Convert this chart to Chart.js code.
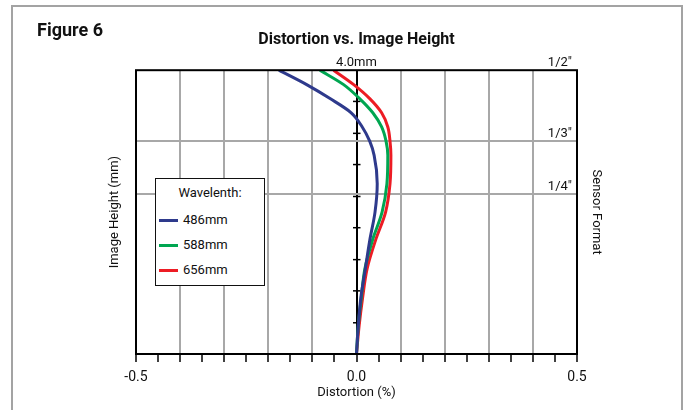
<!DOCTYPE html>
<html>
<head>
<meta charset="utf-8">
<script src="https://cdn.jsdelivr.net/npm/chart.js@4.4.1/dist/chart.umd.min.js"></script>
<style>
  html, body { margin: 0; padding: 0; background: #fff; }
  #wrap { position: relative; width: 687px; height: 410px; overflow: hidden; font-family: Roboto, "Liberation Sans", sans-serif; }
  #frame { position: absolute; left: 11px; top: 5px; width: 672px; height: 430px; border: 2px solid #a3a3a3; box-sizing: border-box; }
  #fig { position: absolute; left: 37px; top: 19px; font-weight: bold; font-size: 18px; color: #111; }
  #legend { position: absolute; left: 155px; top: 178px; width: 110px; height: 108px; border: 1.5px solid #111; background: #fff; box-sizing: border-box; font-size: 13px; color: #111; }
  #legend .ttl { position: absolute; left: 0; width: 100%; top: 6px; text-align: center; }
  #legend .row { position: absolute; left: 3px; height: 18px; line-height: 18px; }
  #legend .sw { display: inline-block; width: 19px; height: 3px; vertical-align: middle; margin-right: 5px; }
  canvas { position: absolute; left: 0; top: 0; }
</style>
</head>
<body>
<div id="wrap">
  <div id="frame"></div>
  <canvas id="c" width="687" height="410"></canvas>
  <div id="fig">Figure 6</div>
  <div id="legend"></div>
</div>
<script>
// ---- data ----
const heights = [0, 0.4, 0.8, 1.2, 1.6, 2.0, 2.4, 2.8, 3.0, 3.2, 3.4, 3.6, 3.8, 4.0];
const dist486 = [0, 0.004, 0.010, 0.020, 0.030, 0.042, 0.047, 0.040, 0.030, 0.013, -0.012, -0.060, -0.114, -0.176];
const dist588 = [0, 0.004, 0.011, 0.019, 0.036, 0.058, 0.069, 0.071, 0.067, 0.057, 0.037, 0.007, -0.030, -0.083];
const dist656 = [0, 0.006, 0.014, 0.024, 0.043, 0.066, 0.076, 0.078, 0.076, 0.071, 0.057, 0.030, -0.007, -0.052];
const seriesNames = ["486mm", "588mm", "656mm"];
const seriesColors = ["#2e3a8c", "#00a651", "#ed1c24"];
const xTickValues = [-0.5, -0.45, -0.4, -0.35, -0.3, -0.25, -0.2, -0.15, -0.1, -0.05, 0, 0.05, 0.1, 0.15, 0.2, 0.25, 0.3, 0.35, 0.4, 0.45, 0.5];
const xTickLabels = {"-0.5": "-0.5", "0": "0.0", "0.5": "0.5"};
const yGridValues = [0, 2.25, 3, 4];
const sensorLabels = [["1/2\u2033", 4], ["1/3\u2033", 3], ["1/4\u2033", 2.25]];
const topLabel = "4.0mm";
const centerTickValues = [0.44, 0.89, 1.33, 1.78, 2.22, 2.67, 3.11, 3.56];

const FONT = 'Roboto, "Liberation Sans", sans-serif';
Chart.defaults.font.family = FONT;
Chart.defaults.color = '#111';

function pts(xs) { return heights.map((h, i) => ({x: xs[i], y: h})); }
const allDist = [dist486, dist588, dist656];

const decor = {
  id: 'decor',
  beforeDatasetsDraw(chart) {
    const {ctx, scales: {x, y}} = chart;
    const x0 = x.getPixelForValue(0);
    ctx.save();
    ctx.strokeStyle = '#000';
    ctx.lineWidth = 1.5;
    centerTickValues.forEach(v => {
      const py = y.getPixelForValue(v);
      ctx.beginPath(); ctx.moveTo(x0 - 3.5, py); ctx.lineTo(x0 + 4, py); ctx.stroke();
    });
    ctx.restore();
  },
  afterDatasetsDraw(chart) {
    const {ctx, chartArea: a, scales: {x, y}} = chart;
    ctx.save();
    ctx.strokeStyle = '#000';
    ctx.lineWidth = 2;
    ctx.strokeRect(a.left, a.top, a.right - a.left, a.bottom - a.top);
    ctx.fillStyle = '#111';
    ctx.font = '13px ' + FONT;
    ctx.textBaseline = 'alphabetic';
    ctx.textAlign = 'right';
    sensorLabels.forEach(([t, v]) => {
      ctx.fillText(t, a.right - 5, y.getPixelForValue(v) - 4);
    });
    ctx.textAlign = 'center';
    ctx.fillText(topLabel, x.getPixelForValue(0), y.getPixelForValue(4) - 4);
    ctx.restore();
  }
};

new Chart(document.getElementById('c'), {
  type: 'line',
  data: {
    datasets: allDist.map((d, i) => ({
      label: seriesNames[i],
      data: pts(d),
      borderColor: seriesColors[i],
      backgroundColor: seriesColors[i],
      borderWidth: 3,
      pointRadius: 0,
      fill: false,
      cubicInterpolationMode: 'monotone'
    }))
  },
  options: {
    indexAxis: 'y',
    responsive: false,
    animation: false,
    devicePixelRatio: 1,
    layout: { padding: { left: 100, right: 83, top: 0, bottom: 4 } },
    plugins: {
      legend: { display: false },
      tooltip: { enabled: false },
      title: {
        display: true,
        text: 'Distortion vs. Image Height',
        fullSize: false,
        font: { size: 16, weight: 'bold' },
        color: '#111',
        padding: { top: 30, bottom: 21 }
      }
    },
    scales: {
      x: {
        type: 'linear',
        position: 'bottom',
        min: -0.5, max: 0.5,
        afterBuildTicks: s => { s.ticks = xTickValues.map(v => ({value: v})); },
        afterFit: s => { s.height = 52; },
        ticks: {
          autoSkip: false, maxRotation: 0, padding: 7,
          font: { size: 14 }, color: '#111',
          callback: v => { const k = String(Math.round(v * 100) / 100); return xTickLabels[k] !== undefined ? xTickLabels[k] : ''; }
        },
        grid: {
          color: c => { const v = Math.round(c.tick.value * 100); if (v === 0) return '#000'; return (v % 10 === 0) ? '#a8a8a8' : 'rgba(0,0,0,0)'; },
          lineWidth: 2,
          tickColor: '#000',
          tickWidth: 1.5,
          tickLength: 8
        },
        border: { display: false },
        title: { display: true, text: 'Distortion (%)', font: { size: 13 }, color: '#111', padding: { top: 0, bottom: 5 } }
      },
      y: {
        type: 'linear',
        position: 'left',
        min: 0, max: 4,
        afterBuildTicks: s => { s.ticks = yGridValues.map(v => ({value: v})); },
        afterFit: s => { s.width = 36; },
        ticks: { display: false },
        grid: {
          color: c => (c.tick.value > 0 && c.tick.value < 4) ? '#a8a8a8' : 'rgba(0,0,0,0)',
          lineWidth: 2,
          drawTicks: false
        },
        border: { display: false },
        title: { display: true, text: 'Image Height (mm)', font: { size: 13 }, color: '#111', padding: { top: 7, bottom: 0 } }
      },
      y2: {
        type: 'linear',
        position: 'right',
        display: true,
        min: 0, max: 4,
        afterFit: s => { s.width = 27; },
        ticks: { display: false },
        grid: { display: false, drawTicks: false },
        border: { display: false },
        title: { display: true, text: 'Sensor Format', font: { size: 13 }, color: '#111', padding: { top: 0, bottom: 0 } }
      }
    }
  },
  plugins: [decor]
});

// HTML legend built from the series arrays
const lg = document.getElementById('legend');
const t = document.createElement('div'); t.className = 'ttl'; t.textContent = 'Wavelenth:'; lg.appendChild(t);
seriesNames.forEach((n, i) => {
  const r = document.createElement('div'); r.className = 'row'; r.style.top = (32 + i * 25) + 'px';
  const sw = document.createElement('span'); sw.className = 'sw'; sw.style.background = seriesColors[i];
  r.appendChild(sw); r.appendChild(document.createTextNode(n)); lg.appendChild(r);
});
</script>
</body>
</html>
